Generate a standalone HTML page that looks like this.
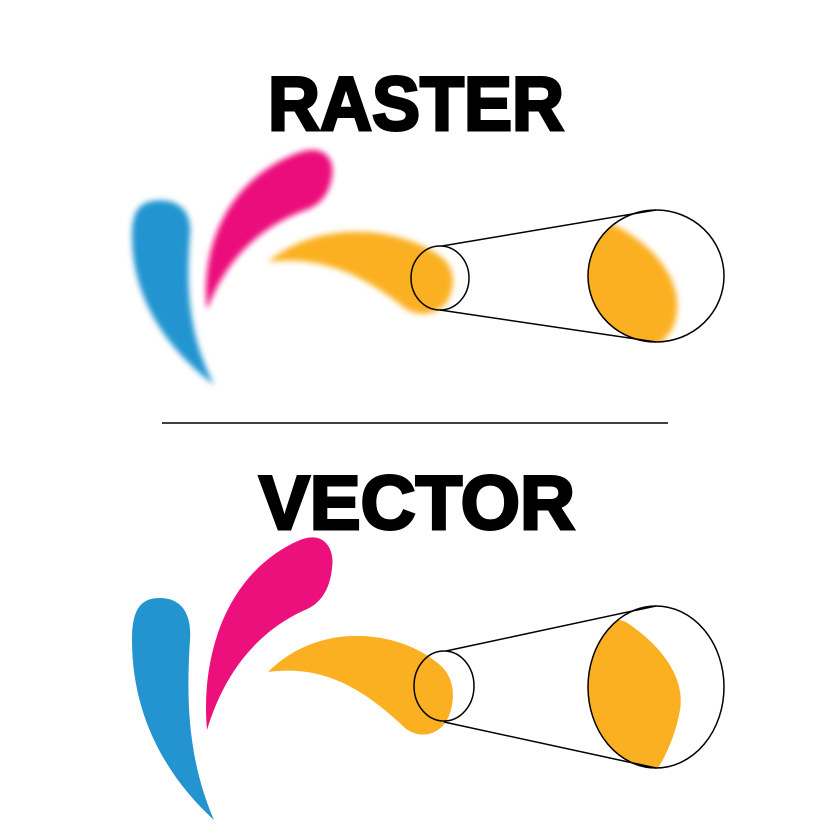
<!DOCTYPE html>
<html><head><meta charset="utf-8"><style>html,body{margin:0;padding:0;background:#fff}</style></head><body>
<svg width="833" height="833" viewBox="0 0 833 833" xmlns="http://www.w3.org/2000/svg">
<defs>
<filter id="b" x="-20%" y="-20%" width="140%" height="140%"><feGaussianBlur stdDeviation="3"/></filter>
<clipPath id="bigV"><ellipse cx="656" cy="687" rx="68" ry="81"/></clipPath>
<clipPath id="bigR"><ellipse cx="656" cy="276" rx="68" ry="66"/></clipPath>
<g id="shapes">
<path fill="#2394d0" d="M214 820 C170 780 132 720 132 640 C132 610 140 598 160 598 C180 598 192 612 190 640 C186 700 188 760 214 820 Z"/>
<path fill="#ec107c" d="M207 730 C200 650 230 570 300 540 C325 530 335 550 332 568 C330 590 320 604 305 610 C260 630 225 670 207 730 Z"/>
<path fill="#fbb022" d="M268 672 C320 620 400 630 440 665 C455 678 456 700 448 718 C440 735 420 740 405 728 C360 685 320 665 268 672 Z"/>
</g>
</defs>
<text x="416" y="130" text-anchor="middle" font-family="Liberation Sans, sans-serif" font-weight="bold" font-size="76" stroke="#000" stroke-width="3" textLength="296" lengthAdjust="spacingAndGlyphs">RASTER</text>
<text x="417" y="529" text-anchor="middle" font-family="Liberation Sans, sans-serif" font-weight="bold" font-size="76" stroke="#000" stroke-width="3" textLength="316" lengthAdjust="spacingAndGlyphs">VECTOR</text>
<line x1="162" y1="423" x2="668" y2="423" stroke="#000" stroke-width="1.5"/>
<!-- raster -->
<g filter="url(#b)"><g transform="matrix(1,0,0,0.83,0,-296)"><use href="#shapes"/></g></g>
<g clip-path="url(#bigR)" filter="url(#b)"><path fill="#fbb022" d="M560 200 L620 228 C660 250 690 290 672 330 L655 350 L560 350 Z"/></g>
<g fill="none" stroke="#000" stroke-width="1.5">
<ellipse cx="440" cy="278" rx="29" ry="32"/>
<ellipse cx="656" cy="276" rx="68" ry="66"/>
<line x1="442" y1="246" x2="656" y2="210"/>
<line x1="440" y1="310" x2="656" y2="342"/>
</g>
<!-- vector -->
<use href="#shapes"/>
<g clip-path="url(#bigV)"><path fill="#fbb022" d="M560 600 L626 622 C665 648 685 680 680 710 C676 732 668 752 658 768 L560 780 Z"/></g>
<g fill="none" stroke="#000" stroke-width="1.5">
<ellipse cx="444" cy="686" rx="30" ry="35"/>
<ellipse cx="656" cy="687" rx="68" ry="81"/>
<line x1="446" y1="651" x2="656" y2="606"/>
<line x1="444" y1="722" x2="656" y2="768"/>
</g>
</svg>
</body></html>
